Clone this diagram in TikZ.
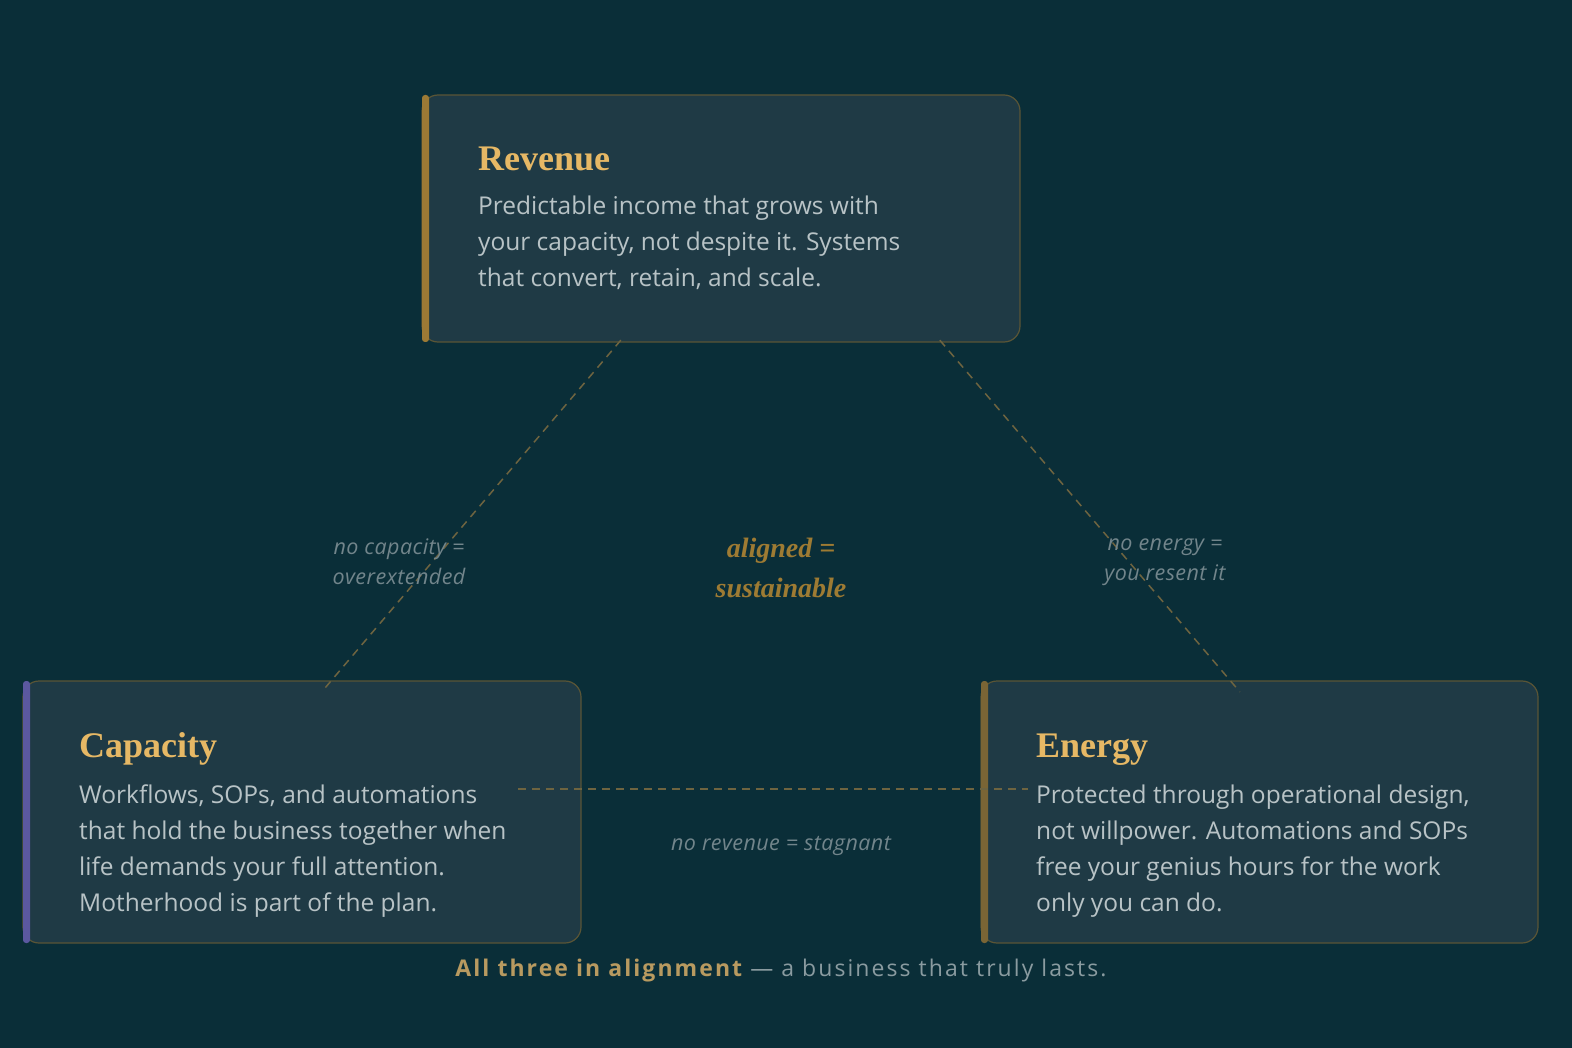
\documentclass[tikz,border=0pt]{standalone}
\usepackage{fontspec}
\setmainfont{Open Sans}
\newfontfamily\titlefont{Liberation Serif}
\newfontfamily\bodyfont{Open Sans}
\usetikzlibrary{calc}
\definecolor{bgc}{HTML}{0A2E38}
\definecolor{cardc}{HTML}{1F3A45}
\definecolor{cardline}{HTML}{5A5536}
\definecolor{goldt}{HTML}{E6B865}
\definecolor{goldbar}{HTML}{9C7A35}
\definecolor{goldbar2}{HTML}{7A6535}
\definecolor{purpbar}{HTML}{5B58A0}
\definecolor{bodyc}{HTML}{B8C3C6}
\definecolor{labelc}{HTML}{72858B}
\definecolor{alignc}{HTML}{9E7B33}
\definecolor{dashc}{HTML}{6E6440}
\definecolor{footgold}{HTML}{B89A60}
\definecolor{footgrey}{HTML}{8A9BA0}
\tikzset{
  card/.style={draw=cardline, line width=1.2pt, fill=cardc, rounded corners=16pt},
  cardtitle/.style={anchor=base west, inner sep=0pt, text=goldt, font=\titlefont\bfseries\fontsize{36}{40}\selectfont},
  cardbody/.style={anchor=north west, inner sep=0pt, text=bodyc, align=left, font=\bodyfont\fontsize{24.5}{36}\selectfont},
  edgelabel/.style={inner sep=0pt, text=labelc, align=center, font=\bodyfont\itshape\fontsize{21.5}{30}\selectfont\addfontfeatures{LetterSpace=2}},
  conn/.style={draw=dashc, line width=1.5pt, dash pattern=on 8pt off 6pt},
}
\begin{document}
\begin{tikzpicture}[x=1pt,y=-1pt]
\fill[bgc] (0,0) rectangle (1572,1048);
\useasboundingbox (0,0) rectangle (1572,1048);
% cards
\path[card] (422,95) rectangle (1020,342);
\path[card] (23,681) rectangle (581,943);
\path[card] (981,681) rectangle (1538,943);
\node[inner sep=0pt, minimum width=598pt, minimum height=247pt] (rev) at (721,218.5) {};
\node[inner sep=0pt, minimum width=558pt, minimum height=262pt] (cap) at (302,812) {};
\node[inner sep=0pt, minimum width=557pt, minimum height=262pt] (ene) at (1259.5,812) {};
% left accent bars
\fill[goldbar, rounded corners=3pt] (422,95) rectangle (429,342);
\fill[purpbar, rounded corners=3pt] (23,681) rectangle (30,943);
\fill[goldbar2, rounded corners=3pt] (981,681) rectangle (988,943);
% titles
\node[cardtitle] (revt) at (478,171) {Revenue};
\node[cardtitle] (capt) at (79,757) {Capacity};
\node[cardtitle] (enet) at (1036,757) {Energy};
% bodies
\node[cardbody] (revb) at (478,196) {Predictable income that grows with\\your capacity, not despite it. Systems\\that convert, retain, and scale.};
\node[cardbody] (capb) at (79,785) {Workflows, SOPs, and automations\\that hold the business together when\\life demands your full attention.\\Motherhood is part of the plan.};
\node[cardbody] (eneb) at (1036,785) {Protected through operational design,\\not willpower. Automations and SOPs\\free your genius hours for the work\\only you can do.};
% connectors
\coordinate (revL) at ($(rev.south west)+(199,-2)$);
\coordinate (capT) at ($(cap.north west)+(299,11)$);
\coordinate (revR) at ($(rev.south west)+(518,-2)$);
\coordinate (eneT) at ($(ene.north west)+(259,11)$);
\coordinate (capR) at ($(cap.north west)+(495,108)$);
\coordinate (eneL) at ($(ene.north west)+(47,108)$);
\draw[conn] (revL) -- (capT);
\draw[conn] (revR) -- (eneT);
\draw[conn] (capR) -- (eneL);
% labels
\node[edgelabel] (lcap) at (399,562) {no capacity =\\overextended};
\node[edgelabel] (lene) at (1165,562) {no energy =\\you resent it};
\node[edgelabel] (lrev) at (781,846) {no revenue = stagnant};
\node[inner sep=0pt, text=alignc, align=center, font=\titlefont\bfseries\itshape\fontsize{28}{40}\selectfont] (aligned) at (781,568) {aligned =\\sustainable};
% footer
\node[inner sep=0pt, font=\bodyfont\fontsize{23}{30}\selectfont, anchor=base] (foot) at (781,976) {\addfontfeatures{LetterSpace=9}\textcolor{footgold}{\bfseries All three in alignment} \textcolor{footgrey}{— a business that truly lasts.}};
\end{tikzpicture}
\end{document}
